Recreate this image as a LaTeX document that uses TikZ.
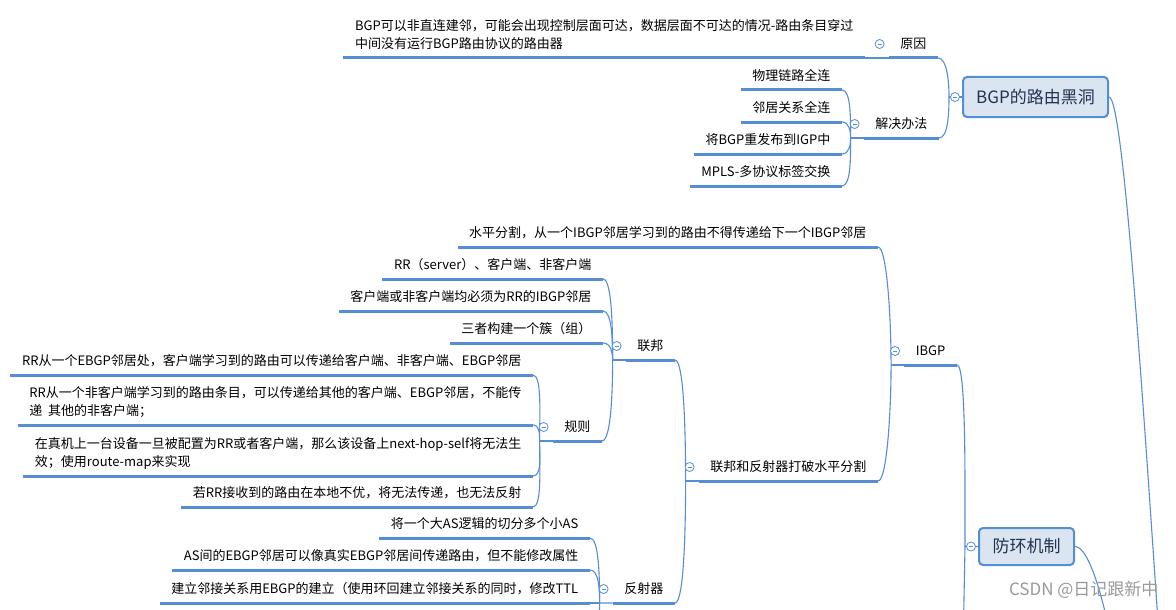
\documentclass[tikz,border=0pt]{standalone}
\usepackage{fontspec}
\setmainfont{Noto Sans CJK SC}
\usetikzlibrary{calc}
\definecolor{xblue}{HTML}{558ED5}
\definecolor{boxfill}{HTML}{DBE5F1}
\definecolor{boxtext}{RGB}{35,50,80}
\newcommand{\twolines}[2]{\begin{tabular}[b]{@{}l@{}}#1\\#2\end{tabular}}

\begin{document}
\begin{tikzpicture}[x=1pt, y=-1pt,
  every node/.style={font=\fontsize{13}{18.5}\selectfont, text=black},
  uline/.style={draw=xblue, line width=3pt},
  link/.style={draw=xblue, line width=1.1pt},
  note/.style={anchor=south east, inner xsep=11.5pt, inner ysep=6pt, text depth=3pt,
    append after command={(\tikzlastnode.south west) edge[uline] (\tikzlastnode.south east)}},
  topic/.style={note, text height=10pt},
  bigtopic/.style={draw=xblue, line width=2pt, fill=boxfill, rounded corners=4pt,
    text=boxtext, font=\fontsize{17}{20}\selectfont},
  fold/.style={circle, draw=xblue, fill=white, line width=0.8pt, inner sep=0pt, minimum size=9pt,
    path picture={\draw[xblue, line width=0.7pt] ([xshift=-2pt]path picture bounding box.center) -- ([xshift=2pt]path picture bounding box.center);}},
  fromabove/.style={out=0, in=90, out max distance=9pt},
  frombelow/.style={out=0, in=-90, out max distance=9pt}
]
\path[use as bounding box, fill=white] (0,0) rectangle (1176,610);
\clip (0,0) rectangle (1176,610);

% ---- BGP的路由黑洞 ----
\node[bigtopic, minimum width=145pt, minimum height=40pt] (hole) at (1035.5,97) {BGP的路由黑洞};
\coordinate (hole-s) at ([xshift=-13pt]hole.west);

\node[topic] (yy) at (938,58) {原因};
\coordinate (yy-s) at ([xshift=-13pt]yy.south west);
\node[note] (yyn) at (865,58) {\twolines{BGP可以非直连建邻，可能会出现控制层面可达，数据层面不可达的情况-路由条目穿过}{中间没有运行BGP路由协议的路由器}};

\node[topic] (jj) at (939,138) {解决办法};
\coordinate (jj-s) at ([xshift=-13pt]jj.south west);
\node[topic] (wl)   at (842,90)  {物理链路全连};
\node[topic] (lj)   at (842,122) {邻居关系全连};
\node[topic] (cf)   at (842,154) {将BGP重发布到IGP中};
\node[topic] (mpls) at (842,186) {MPLS-多协议标签交换};

% ---- 防环机制 ----
\node[bigtopic, minimum width=95pt, minimum height=37pt] (fh) at (1026.5,546.5) {防环机制};
\coordinate (fh-s) at ([xshift=-13pt]fh.west);

\node[topic] (ibgp) at (957,365) {IBGP};
\coordinate (ibgp-s) at ([xshift=-13pt]ibgp.south west);
\node[topic] (spw)   at (878,247) {水平分割，从一个IBGP邻居学习到的路由不得传递给下一个IBGP邻居};
\node[topic] (pofen) at (878,481) {联邦和反射器打破水平分割};
\coordinate (pofen-s) at ([xshift=-13pt]pofen.south west);

\node[topic] (lb) at (675,360) {联邦};
\coordinate (lb-s) at ([xshift=-13pt]lb.south west);
\node[topic] (rrs) at (603,279) {RR（server）、客户端、非客户端};
\node[topic] (khd) at (603,311) {客户端或非客户端均必须为RR的IBGP邻居};
\node[topic] (szg) at (603,343) {三者构建一个簇（组）};
\node[topic] (gz)  at (602,441) {规则};
\coordinate (gz-s) at ([xshift=-13pt]gz.south west);

\node[topic] (r1) at (533,375) {RR从一个EBGP邻居处，客户端学习到的路由可以传递给客户端、非客户端、EBGP邻居};
\node[note]  (r2) at (533,425) {\twolines{RR从一个非客户端学习到的路由条目，可以传递给其他的客户端、EBGP邻居，不能传}{递~~其他的非客户端；}};
\node[note]  (r3) at (533,476) {\twolines{在真机上一台设备一旦被配置为RR或者客户端，那么该设备上next-hop-self将无法生}{效；使用route-map来实现}};
\node[topic] (r4) at (533,507) {若RR接收到的路由在本地不优，将无法传递，也无法反射};

\node[topic] (fsq) at (675,603) {反射器};
\coordinate (fsq-s) at ([xshift=-13pt]fsq.south west);
\node[topic] (a1) at (590,538) {将一个大AS逻辑的切分多个小AS};
\node[topic] (a2) at (590,570) {AS间的EBGP邻居可以像真实EBGP邻居间传递路由，但不能修改属性};
\node[topic] (a3) at (590,603) {建立邻接关系用EBGP的建立（使用环回建立邻接关系的同时，修改TTL};

% ---- lines leaving the picture ----
\coordinate (offA) at (1160,650);
\coordinate (offB) at (1113,650);
\coordinate (offC) at (963,650);
\coordinate (offD) at (599,650);

% ---- connectors ----
\draw[link] (hole.east) to[out=0, in=94, out max distance=15pt] (offA);
\draw[link] (fh.east) to[out=0, in=100, out max distance=15pt] (offB);
\draw[link] (yy.south east) to[fromabove] (hole-s);
\draw[link] (jj.south east) to[frombelow] (hole-s);
\draw[link] (hole-s) -- (hole.west);
\draw[link] (yyn.south east) -- (yy.south west);
\draw[link] (wl.south east) to[fromabove] (jj-s);
\draw[link] (lj.south east) to[fromabove] (jj-s);
\draw[link] (cf.south east) to[frombelow] (jj-s);
\draw[link] (mpls.south east) to[frombelow] (jj-s);
\draw[link] (jj-s) -- (jj.south west);

\draw[link] (ibgp.south east) to[fromabove] (fh-s);
\draw[link] (offC) -- (fh-s) -- (fh.west);
\draw[link] (spw.south east) to[fromabove] (ibgp-s);
\draw[link] (pofen.south east) to[frombelow] (ibgp-s);
\draw[link] (ibgp-s) -- (ibgp.south west);
\draw[link] (lb.south east) to[fromabove] (pofen-s);
\draw[link] (fsq.south east) to[frombelow] (pofen-s);
\draw[link] (pofen-s) -- (pofen.south west);

\draw[link] (rrs.south east) to[fromabove] (lb-s);
\draw[link] (khd.south east) to[fromabove] (lb-s);
\draw[link] (szg.south east) to[fromabove] (lb-s);
\draw[link] (gz.south east) to[frombelow] (lb-s);
\draw[link] (lb-s) -- (lb.south west);

\draw[link] (r1.south east) to[fromabove] (gz-s);
\draw[link] (r2.south east) to[fromabove] (gz-s);
\draw[link] (r3.south east) to[frombelow] (gz-s);
\draw[link] (r4.south east) to[frombelow] (gz-s);
\draw[link] (gz-s) -- (gz.south west);

\draw[link] (a1.south east) to[fromabove] (fsq-s);
\draw[link] (a2.south east) to[fromabove] (fsq-s);
\draw[link] (a3.south east) -- (fsq-s);
\draw[link] (offD) -- (fsq-s) -- (fsq.south west);

% ---- fold marks ----
\node[fold] (hole-f) at ([xshift=-7pt]hole.west) {};
\node[fold] (fh-f)   at ([xshift=-7pt]fh.west) {};
\node[fold] (yy-f)   at ([shift={(-9,-14)}]yy.south west) {};
\node[fold] (jj-f)   at ([shift={(-9,-14)}]jj.south west) {};
\node[fold] (ibgp-f) at ([shift={(-9,-14)}]ibgp.south west) {};
\node[fold] (pofen-f) at ([shift={(-9,-14)}]pofen.south west) {};
\node[fold] (lb-f)   at ([shift={(-9,-14)}]lb.south west) {};
\node[fold] (gz-f)   at ([shift={(-9,-14)}]gz.south west) {};
\node[fold] (fsq-f)  at ([shift={(-9,-14)}]fsq.south west) {};

\node[text=black!40, font=\fontsize{17}{20}\selectfont, anchor=east] (wm) at (1162,590) {CSDN @日记跟新中};
\end{tikzpicture}
\end{document}
